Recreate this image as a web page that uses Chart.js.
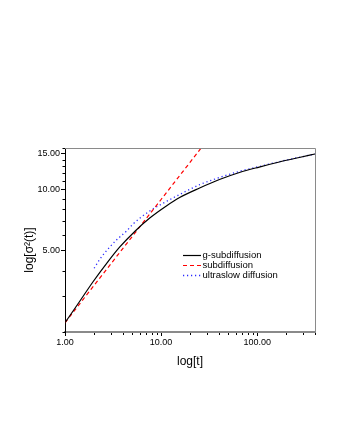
<!DOCTYPE html>
<html>
<head>
<meta charset="utf-8">
<script src="https://cdn.jsdelivr.net/npm/chart.js@4.4.1/dist/chart.umd.min.js"></script>
<style>
html,body{margin:0;padding:0;background:#fff;}
canvas{display:block;}
</style>
</head>
<body>
<canvas id="c" width="340" height="440"></canvas>
<script>
// ---- data ----
const seriesNames = ['g-subdiffusion', 'subdiffusion', 'ultraslow diffusion'];

const tG = [1, 1.43, 1.95, 2.79, 3.72, 5.32, 7.62, 11.35, 15.6, 25.2, 40.5, 65.4, 105, 170, 274, 400];
const sigmaG = [2.22, 2.84, 3.52, 4.42, 5.23, 6.23, 7.25, 8.31, 9.14, 10.18, 11.2, 12.13, 12.9, 13.66, 14.37, 14.95];

const tSub = [1, 2, 5, 10, 20, 30];
const sigmaSub = [2.22, 3.38, 5.88, 8.94, 13.6, 17.4];

const tUltra = [2.01, 2.31, 2.93, 3.44, 4.37, 5.11, 7.62, 11.35, 15.6, 25.2, 40.5, 65.4, 105, 170, 274, 400];
const sigmaUltra = [4.11, 4.56, 5.23, 5.66, 6.26, 6.78, 7.85, 8.74, 9.46, 10.57, 11.46, 12.29, 12.98, 13.71, 14.4, 14.95];

const xMajorTicks = [1, 10, 100];
const xMinorTicks = [2, 3, 4, 5, 6, 7, 8, 9, 20, 30, 40, 50, 60, 70, 80, 90, 200, 300, 400];
const yMajorTicks = [5, 10, 15];
const yMinorTicks = [2, 3, 4, 6, 7, 8, 9, 11, 12, 13, 14, 16];

const xTitle = 'log[t]';
const yTitle = 'log[σ²(t)]';

// ---- helpers ----
const pts = (xs, ys) => xs.map((x, i) => ({x: x, y: ys[i]}));
const FONT = '"Liberation Sans", Arial, sans-serif';

const extras = {
  id: 'extras',
  afterDraw(chart) {
    const ctx = chart.ctx;
    const a = chart.chartArea;
    const xs = chart.scales.x, ys = chart.scales.y;
    ctx.save();
    // frame (top & right)
    ctx.strokeStyle = '#8a8a8a';
    ctx.lineWidth = 1;
    ctx.beginPath();
    ctx.moveTo(a.left, a.top + 0.5);
    ctx.lineTo(a.right + 0.5, a.top + 0.5);
    ctx.lineTo(a.right + 0.5, a.bottom);
    ctx.stroke();
    // minor ticks
    ctx.strokeStyle = '#000';
    ctx.beginPath();
    xMinorTicks.forEach(v => {
      const px = Math.round(xs.getPixelForValue(v)) + 0.5;
      ctx.moveTo(px, a.bottom + 1);
      ctx.lineTo(px, a.bottom + 3);
    });
    yMinorTicks.forEach(v => {
      const py = Math.round(ys.getPixelForValue(v)) + 0.5;
      ctx.moveTo(a.left - 2.5, py);
      ctx.lineTo(a.left, py);
    });
    ctx.stroke();
    // y title
    ctx.fillStyle = '#000';
    ctx.font = '12px ' + FONT;
    ctx.textAlign = 'center';
    ctx.textBaseline = 'middle';
    ctx.translate(30, (a.top + a.bottom) / 2 + 10);
    ctx.rotate(-Math.PI / 2);
    ctx.fillText(yTitle, 0, 0);
    ctx.restore();

    // legend
    ctx.save();
    ctx.font = '9.5px ' + FONT;
    ctx.textBaseline = 'middle';
    ctx.textAlign = 'left';
    ctx.fillStyle = '#000';
    const lx = a.left + 118, ly = a.top + 107, rowH = 9.8;
    chart.data.datasets.forEach((ds, i) => {
      const y = Math.round(ly + i * rowH) + 0.5;
      ctx.strokeStyle = ds.borderColor;
      ctx.lineWidth = ds.borderWidth;
      ctx.setLineDash(ds.borderDash || []);
      ctx.beginPath();
      ctx.moveTo(lx, y);
      ctx.lineTo(lx + 18, y);
      ctx.stroke();
      ctx.setLineDash([]);
      ctx.fillText(ds.label, lx + 19.5, y);
    });
    ctx.restore();
  }
};

new Chart(document.getElementById('c'), {
  type: 'scatter',
  data: {
    datasets: [
      {label: seriesNames[0], data: pts(tG, sigmaG), showLine: true, borderColor: '#000000', borderWidth: 1.2, pointRadius: 0, cubicInterpolationMode: 'monotone'},
      {label: seriesNames[1], data: pts(tSub, sigmaSub), showLine: true, borderColor: '#ff0000', borderWidth: 1.2, borderDash: [4, 3], pointRadius: 0},
      {label: seriesNames[2], data: pts(tUltra, sigmaUltra), showLine: true, borderColor: '#2a2aff', borderWidth: 1.3, borderDash: [1.2, 2.8], pointRadius: 0, cubicInterpolationMode: 'monotone'}
    ]
  },
  options: {
    responsive: false,
    animation: false,
    devicePixelRatio: 1,
    layout: {padding: {top: 148, left: 0, right: 25, bottom: 60}},
    plugins: {legend: {display: false}, tooltip: {enabled: false}},
    scales: {
      x: {
        type: 'logarithmic', min: 1, max: 400,
        afterBuildTicks: s => { s.ticks = xMajorTicks.map(v => ({value: v})); },
        afterFit: s => { s.height = 48; },
        ticks: {color: '#000', font: {family: FONT, size: 9}, padding: 1, maxRotation: 0, autoSkip: false,
          callback: v => Number(v).toFixed(2)},
        grid: {drawOnChartArea: false, drawTicks: true, tickLength: 4, color: '#000', tickColor: '#000'},
        border: {display: true, color: '#8a8a8a', width: 2},
        title: {display: true, text: xTitle, color: '#000', font: {family: FONT, size: 12}, padding: {top: 0, bottom: 11}}
      },
      y: {
        type: 'logarithmic', min: 2, max: 16,
        afterBuildTicks: s => { s.ticks = yMajorTicks.map(v => ({value: v})); },
        afterFit: s => { s.width = 65; },
        ticks: {color: '#000', font: {family: FONT, size: 9}, padding: 1, autoSkip: false,
          callback: v => Number(v).toFixed(2)},
        grid: {drawOnChartArea: false, drawTicks: true, tickLength: 4, color: '#000', tickColor: '#000'},
        border: {display: true, color: '#000', width: 1},
        title: {display: false}
      }
    }
  },
  plugins: [extras]
});
</script>
</body>
</html>
